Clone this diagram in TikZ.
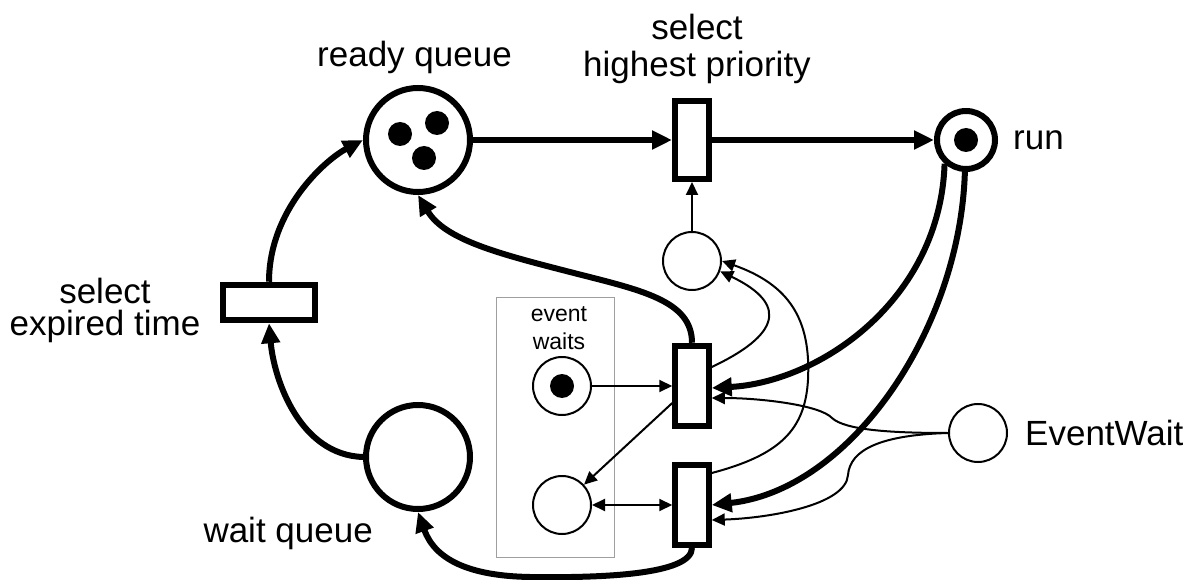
\documentclass[tikz,border=0pt]{standalone}
\usepackage{fontspec}
\setmainfont{Liberation Sans}
\usetikzlibrary{arrows.meta}
\begin{document}
\begin{tikzpicture}[x=1pt,y=-1pt,
  bigplace/.style={circle,draw,line width=6pt,minimum size=104pt,inner sep=0pt},
  runplace/.style={circle,draw,line width=6pt,minimum size=58pt,inner sep=0pt},
  place/.style={circle,draw,line width=2pt,minimum size=58pt,inner sep=0pt,fill=white},
  token/.style={circle,fill,minimum size=24pt,inner sep=0pt},
  trans/.style={rectangle,draw,line width=6pt,inner sep=0pt,fill=white},
  lbl/.style={font=\fontsize{35}{37}\selectfont,inner sep=0pt},
  thickarc/.style={line width=6pt,-{Triangle[length=20pt,width=18pt]}},
  thinarc/.style={line width=2pt,-{Triangle[length=13pt,width=12pt]}},
  thinboth/.style={line width=2pt,{Triangle[length=13pt,width=12pt]}-{Triangle[length=13pt,width=12pt]}},
]
\useasboundingbox (0,0) rectangle (1187,580);

% group box
\node[draw=gray!75,line width=1pt,minimum width=118pt,minimum height=260pt,inner sep=0pt] (grp) at (555.5,427.5) {};
\node[align=center,font=\fontsize{23}{28}\selectfont,inner sep=0pt] (grplbl) at (559,328) {event\\waits};

% places
\node[bigplace] (ready) at (418,140) {};
\node[token] (rt1) at (400,134) {};
\node[token] (rt2) at (437,123) {};
\node[token] (rt3) at (424,158) {};
\node[bigplace] (wait) at (418,457) {};
\node[runplace] (run) at (966,140) {};
\node[token] (runt) at (966,140) {};
\node[place] (sp) at (692,261) {};
\node[place] (ew1) at (562,386) {};
\node[token] (ew1t) at (562,386) {};
\node[place] (ew2) at (562,505) {};
\node[place] (evw) at (978,433) {};

% transitions
\node[trans,minimum width=34pt,minimum height=78pt] (t1) at (692,140) {};
\node[trans,minimum width=33.5pt,minimum height=80.5pt] (t2) at (692,386) {};
\node[trans,minimum width=33.5pt,minimum height=79.5pt] (t3) at (692,505) {};
\node[trans,minimum width=92.5pt,minimum height=35.5pt] (te) at (269,302.5) {};

% labels
\node[lbl,anchor=base] (lready) at (414.5,67) {ready queue};
\node[lbl,align=center] (lsel) at (697,48.5) {select\\highest priority};
\node[lbl,align=center,font=\fontsize{35}{32}\selectfont] (lexp) at (105,310) {select\\expired time};
\node[lbl,anchor=base east] (lwait) at (373,542) {wait queue};
\node[lbl,anchor=base west] (lrun) at (1013,150) {run};
\node[lbl,anchor=base west] (levw) at (1025,445) {EventWait};

% named connector ends
\coordinate (t2a) at ([yshift=19pt]t2.east);
\coordinate (t2b) at ([yshift=-2pt]t2.east);
\coordinate (t2c) at ([yshift=-12pt]t2.east);
\coordinate (t2d) at ([yshift=-17pt]t2.west);
\coordinate (t3a) at ([yshift=32pt]t3.east);
\coordinate (t3c) at ([yshift=-15pt]t3.east);

% thick arcs
\draw[thickarc] (ready) -- (t1);
\draw[thickarc] (t1) -- (run);
\draw[thickarc] (run.-132) .. controls (940,300) and (820,382) .. (t2b);
\draw[thickarc] (run.-92) .. controls (960,330) and (850,490) .. (t3.east);
\draw[thickarc] (t2.north) .. controls (692,300) and (640,290) .. (570,272)
   .. controls (500,254) and (445,240) .. (ready.south);
\draw[thickarc] (t3.south) .. controls (692,575) and (600,578) .. (530,577)
   .. controls (470,576) and (435,560) .. (wait.south);
\draw[thickarc] (wait.west) .. controls (300,455) and (274,380) .. (te.south);
\draw[thickarc] (te.north) .. controls (269,210) and (325,160) .. (ready.west);

% thin arcs
\draw[thinarc] (sp) -- (t1);
\draw[thinarc] (ew1) -- (t2);
\draw[thinarc] (t2d) -- (ew2);
\draw[thinboth] (ew2) -- (t3);
\draw[thinarc] (t2a) .. controls (790,330) and (780,300) .. (sp.-20);
\draw[thinarc] (t3a) .. controls (780,455) and (805,430) .. (808,380)
   .. controls (811,320) and (790,285) .. (sp.0);
\draw[thinarc] (evw.west) .. controls (890,433) and (845,430) .. (832,418)
   .. controls (820,405) and (760,398) .. (t2c);
\draw[thinarc] (evw.west) .. controls (880,435) and (850,450) .. (848,475)
   .. controls (846,505) and (770,518) .. (t3c);
\end{tikzpicture}
\end{document}
